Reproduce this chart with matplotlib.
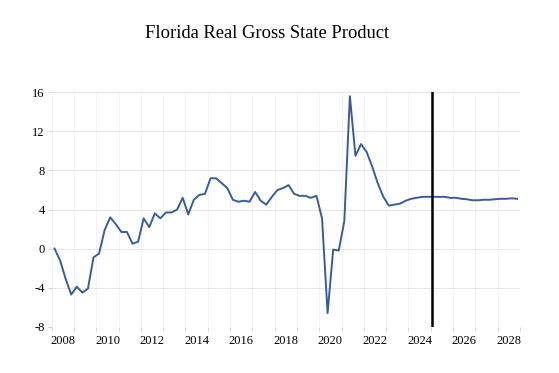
import matplotlib
matplotlib.use("Agg")
import matplotlib.pyplot as plt
import numpy as np

title = "Florida Real Gross State Product"
start_year = 2008
values = [
    0.0, -1.2, -3.1, -4.7, -3.9, -4.5, -4.1, -0.9,
    -0.5, 1.9, 3.2, 2.5, 1.7, 1.7, 0.5, 0.7,
    3.1, 2.2, 3.6, 3.1, 3.7, 3.7, 4.0, 5.2,
    3.5, 5.0, 5.5, 5.6, 7.2, 7.2, 6.7, 6.2,
    5.0, 4.8, 4.9, 4.8, 5.8, 4.9, 4.5, 5.3,
    6.0, 6.2, 6.5, 5.6, 5.4, 5.4, 5.2, 5.4,
    3.1, -6.6, -0.1, -0.2, 2.8, 15.6, 9.5, 10.7,
    9.9, 8.4, 6.7, 5.3, 4.4, 4.5, 4.6, 4.9,
    5.1, 5.2, 5.3, 5.3, 5.3, 5.3, 5.3, 5.2,
    5.2, 5.1, 5.05, 4.95, 4.95, 5.0, 5.0, 5.05,
    5.1, 5.1, 5.15, 5.1,
]
forecast_line_x = 2025.05
y_ticks = [-8, -4, 0, 4, 8, 12, 16]
x_label_years = list(range(2008, 2029, 2))

plt.rcParams['font.family'] = ['Liberation Serif', 'DejaVu Serif']

fig = plt.figure(figsize=(5.59, 3.73), dpi=100)
ax = fig.add_axes([0.0925, 0.124, 0.8375, 0.6285])

n = len(values)
x = start_year + (np.arange(n) + 0.5) / 4.0
ax.plot(x, values, color='#3a5c99', linewidth=1.4, solid_joinstyle='round', zorder=3)
ax.axvline(forecast_line_x, color='black', linewidth=1.8, zorder=4)

ax.set_xlim(start_year, start_year + n / 4.0)
ax.set_ylim(-8, 16)

ax.set_xticks(np.arange(start_year, start_year + n // 4 + 1))
ax.set_xticklabels([])
ax.set_xticks([yr + 0.5 for yr in x_label_years], minor=True)
ax.set_xticklabels([str(yr) for yr in x_label_years], minor=True)
ax.tick_params(axis='x', which='major', length=3, color='#cccccc', width=0.6)
ax.tick_params(axis='x', which='minor', length=0, pad=6, labelsize=9)

ax.set_yticks(y_ticks)
ax.set_yticklabels([str(v) for v in y_ticks])
ax.tick_params(axis='y', length=3, color='#cccccc', width=0.6, pad=2, labelsize=9)

ax.grid(axis='y', color='#e6e6e6', linewidth=0.7)
ax.grid(axis='x', which='major', color='#f3f3f3', linewidth=0.7)
ax.set_axisbelow(True)
for s in ax.spines.values():
    s.set_visible(False)

fig.text(0.478, 0.91, title, ha='center', va='center', fontsize=13.3)

fig.savefig('out.png', dpi=100, facecolor='white')
